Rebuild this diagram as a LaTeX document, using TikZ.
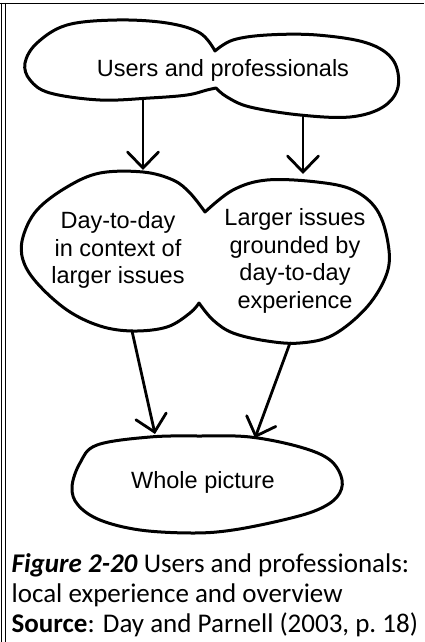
\documentclass[tikz,border=0pt]{standalone}
\usepackage{fontspec}
\setmainfont{Liberation Sans}
\newfontfamily\capfont{Carlito}
\usetikzlibrary{arrows.meta}

\begin{document}
\begin{tikzpicture}[x=1pt, y=-1pt,
        blob/.style={line width=3pt, line join=round, line cap=round},
        arr/.style={line width=2.8pt, line cap=round,
              -{Straight Barb[length=16pt, width=31pt, line cap=round]}},
        txt/.style={font=\fontsize{23.5}{27.5}\selectfont, align=center, inner sep=0pt},
        caption/.style={font=\capfont\fontsize{27}{30}\selectfont, align=left, inner sep=0pt}]
        \useasboundingbox (0,0) rectangle (424,642);

        % frame
        \draw[line width=1.4pt] (0,3.6) -- (424,3.6);
        \draw[line width=1.3pt] (1.6,3) -- (1.6,642);
        \draw[line width=1.3pt] (5.3,3) -- (5.3,642);

        % top blob
        \draw[blob] plot[smooth, tension=.6] coordinates {(215,51) (200,33) (167,23) (117,20)
              (67,25) (37,43) (25,63) (30,80) (50,93) (100,100) (150,98) (187,95) (207,90) (216,88)}
              -- plot[smooth, tension=.6] coordinates {(216,88) (227,97) (250,107) (300,115)
              (350,117) (383,107) (398,87) (393,60) (367,43) (317,35) (267,35) (233,40) (215,51)}
              -- cycle;
        \node[txt] (users) at (223,70) {Users and professionals};

        % middle blob
        \draw[blob] plot[smooth, tension=.6] coordinates {(205,212) (190,193) (173,180) (143,172)
              (100,173) (67,187) (37,210) (23,237) (23,260) (37,283) (67,310) (100,326)
              (133,331) (167,327) (190,313) (199,303)}
              -- plot[smooth, tension=.6] coordinates {(199,303) (213,320) (233,333) (267,341)
              (300,343) (333,335) (367,307) (387,273) (388,243) (377,210) (353,190) (317,182)
              (267,180) (233,190) (205,212)}
              -- cycle;
        \node[txt] (daily) at (118,250) {Day-to-day\\in context of\\larger issues};
        \node[txt] (larger) at (295,261) {Larger issues\\grounded by\\day-to-day\\experience};

        % bottom blob
        \draw[blob] plot[smooth cycle, tension=.6] coordinates {(72,487) (80,463) (97,445)
              (150,437) (200,436) (250,437) (300,447) (330,460) (342,480) (337,497) (317,510)
              (283,520) (233,530) (193,533) (140,530) (100,520) (78,505)};
        \node[txt] (whole) at (203,482) {Whole picture};

        % arrow ends on the outlines
        \coordinate (users-l) at (143,100);
        \coordinate (users-r) at (303,117);
        \coordinate (daily-in) at (143,170);
        \coordinate (larger-in) at (303,174);
        \coordinate (daily-out) at (132,331);
        \coordinate (larger-out) at (290,343);
        \coordinate (whole-l) at (155,434);
        \coordinate (whole-r) at (255,438);

        \draw[arr] (users-l) -- (daily-in);
        \draw[arr] (users-r) -- (larger-in);
        \draw[arr] (daily-out) -- (whole-l);
        \draw[arr] (larger-out) -- (whole-r);

        \node[caption, anchor=north west] (cap) at (11.5,553)
              {\textbf{\textit{Figure 2-20}} Users and professionals:\\
               local experience and overview\\
               \textbf{Source}: Day and Parnell (2003, p.~18)};
      \end{tikzpicture}
\end{document}
